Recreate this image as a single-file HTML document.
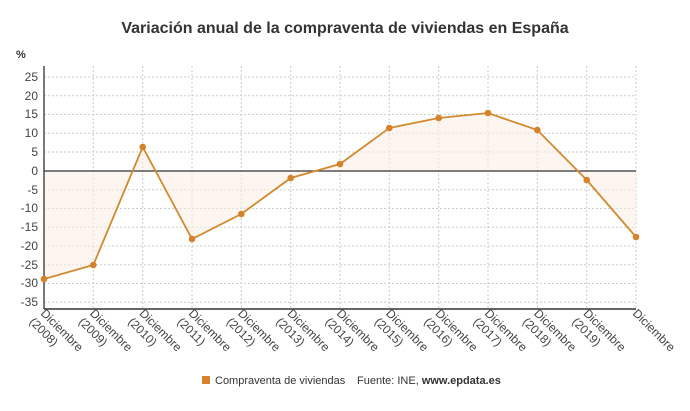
<!DOCTYPE html>
<html><head><meta charset="utf-8"><style>
body{margin:0;background:#fff;width:690px;height:406px;overflow:hidden;font-family:"Liberation Sans",sans-serif}
</style></head><body>
<svg width="690" height="406" xmlns="http://www.w3.org/2000/svg" font-family="Liberation Sans, sans-serif">
<text x="345" y="33" text-anchor="middle" font-size="16" font-weight="bold" fill="#333">Variación anual de la compraventa de viviendas en España</text>
<text x="16" y="58" font-size="11" font-weight="bold" fill="#333">%</text>
<g stroke="#ccc" stroke-dasharray="2,2" stroke-width="1">
<line x1="44" x2="636" y1="77" y2="77"/><line x1="44" x2="636" y1="95.75" y2="95.75"/><line x1="44" x2="636" y1="114.5" y2="114.5"/><line x1="44" x2="636" y1="133.25" y2="133.25"/><line x1="44" x2="636" y1="152" y2="152"/><line x1="44" x2="636" y1="189.75" y2="189.75"/><line x1="44" x2="636" y1="208.5" y2="208.5"/><line x1="44" x2="636" y1="227.25" y2="227.25"/><line x1="44" x2="636" y1="246" y2="246"/><line x1="44" x2="636" y1="264.75" y2="264.75"/><line x1="44" x2="636" y1="283.5" y2="283.5"/><line x1="44" x2="636" y1="302.25" y2="302.25"/>
<line x1="93.3" x2="93.3" y1="66" y2="309"/><line x1="142.7" x2="142.7" y1="66" y2="309"/><line x1="192" x2="192" y1="66" y2="309"/><line x1="241.3" x2="241.3" y1="66" y2="309"/><line x1="290.7" x2="290.7" y1="66" y2="309"/><line x1="340" x2="340" y1="66" y2="309"/><line x1="389.3" x2="389.3" y1="66" y2="309"/><line x1="438.7" x2="438.7" y1="66" y2="309"/><line x1="488" x2="488" y1="66" y2="309"/><line x1="537.3" x2="537.3" y1="66" y2="309"/><line x1="586.7" x2="586.7" y1="66" y2="309"/><line x1="636" x2="636" y1="66" y2="309"/>
</g>
<polygon fill="#fbefe3" opacity="0.55" points="44,171 44,279 93.3,265 142.7,147 192,239 241.3,214 290.7,178 340,164 389.3,128 438.7,118 488,113 537.3,130 586.7,180 636,237 636,171"/>
<line x1="44" x2="636" y1="171" y2="171" stroke="#333" stroke-width="1.3"/>
<line x1="44" x2="44" y1="66" y2="309" stroke="#333" stroke-width="1.3"/>
<line x1="44" x2="636" y1="309" y2="309" stroke="#333" stroke-width="1.5"/>
<g font-size="12" fill="#444" text-anchor="end">
<text x="38" y="81">25</text><text x="38" y="100">20</text><text x="38" y="118">15</text><text x="38" y="137">10</text><text x="38" y="156">5</text><text x="38" y="175">0</text><text x="38" y="194">-5</text><text x="38" y="212">-10</text><text x="38" y="231">-15</text><text x="38" y="250">-20</text><text x="38" y="269">-25</text><text x="38" y="287">-30</text><text x="38" y="306">-35</text>
</g>
<polyline fill="none" stroke="#d08a30" stroke-width="1.8" points="44,279 93.3,265 142.7,147 192,239 241.3,214 290.7,178 340,164 389.3,128 438.7,118 488,113 537.3,130 586.7,180 636,237"/>
<g fill="#d5822a">
<circle cx="44" cy="279" r="3.3"/><circle cx="93.3" cy="265" r="3.3"/><circle cx="142.7" cy="147" r="3.3"/><circle cx="192" cy="239" r="3.3"/><circle cx="241.3" cy="214" r="3.3"/><circle cx="290.7" cy="178" r="3.3"/><circle cx="340" cy="164" r="3.3"/><circle cx="389.3" cy="128" r="3.3"/><circle cx="438.7" cy="118" r="3.3"/><circle cx="488" cy="113" r="3.3"/><circle cx="537.3" cy="130" r="3.3"/><circle cx="586.7" cy="180" r="3.3"/><circle cx="636" cy="237" r="3.3"/>
</g>
<g font-size="12" fill="#444">
<g transform="translate(40,314) rotate(45)"><text x="0" y="0">Diciembre</text><text x="-2" y="14">(2008)</text></g>
<g transform="translate(89.3,314) rotate(45)"><text x="0" y="0">Diciembre</text><text x="-2" y="14">(2009)</text></g>
<g transform="translate(138.7,314) rotate(45)"><text x="0" y="0">Diciembre</text><text x="-2" y="14">(2010)</text></g>
<g transform="translate(188,314) rotate(45)"><text x="0" y="0">Diciembre</text><text x="-2" y="14">(2011)</text></g>
<g transform="translate(237.3,314) rotate(45)"><text x="0" y="0">Diciembre</text><text x="-2" y="14">(2012)</text></g>
<g transform="translate(286.7,314) rotate(45)"><text x="0" y="0">Diciembre</text><text x="-2" y="14">(2013)</text></g>
<g transform="translate(336,314) rotate(45)"><text x="0" y="0">Diciembre</text><text x="-2" y="14">(2014)</text></g>
<g transform="translate(385.3,314) rotate(45)"><text x="0" y="0">Diciembre</text><text x="-2" y="14">(2015)</text></g>
<g transform="translate(434.7,314) rotate(45)"><text x="0" y="0">Diciembre</text><text x="-2" y="14">(2016)</text></g>
<g transform="translate(484,314) rotate(45)"><text x="0" y="0">Diciembre</text><text x="-2" y="14">(2017)</text></g>
<g transform="translate(533.3,314) rotate(45)"><text x="0" y="0">Diciembre</text><text x="-2" y="14">(2018)</text></g>
<g transform="translate(582.7,314) rotate(45)"><text x="0" y="0">Diciembre</text><text x="-2" y="14">(2019)</text></g>
<g transform="translate(632,314) rotate(45)"><text x="0" y="0">Diciembre</text></g>
</g>
<rect x="202" y="376" width="8" height="8" fill="#d5822a"/>
<text x="215" y="384" font-size="11" fill="#333">Compraventa de viviendas</text>
<text x="357" y="384" font-size="11" fill="#333">Fuente: INE, <tspan font-weight="bold">www.epdata.es</tspan></text>
</svg>
</body></html>
